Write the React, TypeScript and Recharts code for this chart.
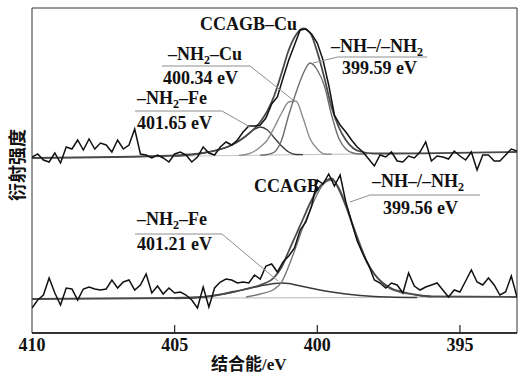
import React from "react";
import { LineChart, Line, XAxis, YAxis, ReferenceArea } from "recharts";

// binding energy grid of the measured spectra (eV)
const energies = [
  410, 409.8, 409.6, 409.4, 409.2, 409, 408.8, 408.6, 408.4, 408.2,
  408, 407.8, 407.6, 407.4, 407.2, 407, 406.8, 406.6, 406.4, 406.2,
  406, 405.8, 405.6, 405.4, 405.2, 405, 404.8, 404.6, 404.4, 404.2,
  404, 403.8, 403.6, 403.4, 403.2, 403, 402.8, 402.6, 402.4, 402.2,
  402, 401.8, 401.6, 401.4, 401.2, 401, 400.8, 400.6, 400.4, 400.2,
  400, 399.8, 399.6, 399.4, 399.2, 399, 398.8, 398.6, 398.4, 398.2,
  398, 397.8, 397.6, 397.4, 397.2, 397, 396.8, 396.6, 396.4, 396.2,
  396, 395.8, 395.6, 395.4, 395.2, 395, 394.8, 394.6, 394.4, 394.2,
  394, 393.8, 393.6, 393.4, 393.2, 393,
];

// CCAGB-Cu measured (offset upward)
const topRaw = [
  176, 179, 173, 171, 180, 170, 186, 184, 193, 183,
  194, 184, 190, 188, 181, 193, 184, 188, 204, 179,
  178, 175, 178, 175, 171, 179, 181, 178, 171, 176,
  186, 180, 178, 186, 191, 188, 193, 201, 207, 207,
  208, 215, 229, 236, 255, 273, 288, 303, 304, 299,
  290, 273, 248, 218, 208, 201, 193, 186, 181, 174,
  167, 178, 176, 181, 172, 171, 177, 175, 181, 191,
  172, 177, 176, 174, 182, 177, 173, 181, 163, 178,
  178, 172, 172, 178, 184, 182,
];

// CCAGB measured
const bottomRaw = [
  25, 33, 38, 55, 40, 28, 45, 44, 33, 44,
  46, 44, 43, 44, 53, 45, 51, 53, 43, 48,
  59, 40, 47, 39, 45, 40, 41, 38, 33, 25,
  46, 26, 45, 51, 54, 53, 50, 51, 50, 58,
  54, 67, 69, 61, 71, 77, 85, 103, 111, 127,
  153, 149, 159, 147, 158, 131, 111, 92, 79, 68,
  53, 50, 45, 50, 48, 40, 60, 47, 43, 46,
  48, 50, 43, 36, 43, 41, 52, 63, 51, 48,
  55, 48, 38, 41, 57, 36,
];

// fitted curves, top
const topEnvE = [410, 405, 404.5, 404, 403.5, 403, 402.5, 402, 401.75, 401.5, 401.25, 401, 400.75, 400.5, 400.25, 400, 399.75, 399.5, 399.25, 399, 398.75, 398.5, 398, 397.5, 393];
const topEnvV = [175, 177.5, 178.5, 180, 183, 188, 197, 211, 222, 238, 260, 283, 298, 304.5, 300, 281, 255, 226, 206, 193, 185, 181.5, 179.5, 179.5, 181];
const topNhE = [402, 401.75, 401.5, 401.25, 401, 400.75, 400.5, 400.25, 400, 399.75, 399.5, 399.25, 399, 398.75, 398.5, 398.25];
const topNhV = [177.8, 178.5, 181, 193, 218, 240, 259, 270, 263, 247, 218, 195, 184, 180, 179, 179.1];
const topCuE = [402.75, 402.5, 402.25, 402, 401.75, 401.5, 401.25, 401, 400.75, 400.5, 400.25, 400, 399.75, 399.5];
const topCuV = [177.6, 178.5, 181, 186, 193, 206, 220, 231, 232, 215, 194, 184, 179, 178.7];
const topFeE = [405, 404.5, 404, 403.5, 403, 402.5, 402.25, 402, 401.75, 401.5, 401.25, 401, 400.75, 400.5];
const topFeV = [177, 178, 180, 183, 188, 197, 203, 206, 203, 195, 187, 181, 178.5, 178.4];
const topBaseE = [410, 393];
const topBaseV = [175, 181];

// fitted curves, bottom
const botEnvE = [410, 405, 404, 403.5, 403, 402.5, 402, 401.5, 401.25, 401, 400.75, 400.5, 400.25, 400, 399.75, 399.5, 399.25, 399, 398.75, 398.5, 398.25, 398, 397.5, 397, 396.5, 396, 393];
const botEnvV = [34, 35, 36, 38, 41, 44, 48, 56, 66, 82, 98, 114, 130, 143, 151, 154.5, 144, 127, 107, 87, 70, 59, 46, 41, 38, 36.5, 36];
const botNhE = [402.5, 402, 401.5, 401.25, 401, 400.75, 400.5, 400.25, 400, 399.75, 399.5, 399.25, 399, 398.75, 398.5, 398.25, 398, 397.5, 397, 396.5, 396];
const botNhV = [36, 39, 44, 51, 67, 86, 106, 123, 139, 150, 153, 146, 129, 108, 89, 71, 59, 45, 40, 38, 36.5];
const botFeE = [405, 404, 403.5, 403, 402.5, 402, 401.5, 401.25, 401, 400.75, 400.5, 400.25, 400, 399.5, 399, 398.5, 398, 397.5, 396.5];
const botFeV = [34.5, 36, 38, 40.5, 44, 47, 49.5, 50, 49.5, 48, 46.5, 45, 43.5, 41, 39, 37.5, 36.5, 36, 35.5];
const botBaseE = [410, 393];
const botBaseV = [34.5, 36];

const xTicks = [410, 405, 400, 395];

const pts = (es: number[], vs: number[]) => es.map((e, i) => ({ e, v: vs[i] }));

const SERIF = "'Liberation Serif', 'Times New Roman', serif";
const CJK = "'Noto Sans CJK SC', sans-serif";

const Tick = ({ x, y, payload }: any) => (
  <g>
    {payload.value !== 410 && <line x1={x} x2={x} y1={y - 8} y2={y} stroke="#222" strokeWidth={1.2} />}
    <text x={x} y={y + 18} textAnchor="middle" fontFamily={SERIF} fontWeight={700} fontSize={18} fill="#111">
      {payload.value}
    </text>
  </g>
);

const Lbl = ({ x, y, main, sub, tail }: any) => (
  <text x={x} y={y} fontFamily={SERIF} fontWeight={700} fontSize={18} fill="#111">
    {main}
    {sub && <tspan fontSize={12} dy={4}>{sub}</tspan>}
    {tail && <tspan dy={sub ? -4 : 0}>{tail}</tspan>}
  </text>
);

export default function App() {
  const series = [
    { d: pts(topBaseE, topBaseV), c: "#c4c4c4", w: 1.2 },
    { d: pts(botBaseE, botBaseV), c: "#c4c4c4", w: 1.2 },
    { d: pts(topFeE, topFeV), c: "#3a3a3a", w: 1.4 },
    { d: pts(topCuE, topCuV), c: "#8c8c8c", w: 1.4 },
    { d: pts(topNhE, topNhV), c: "#6e6e6e", w: 1.4 },
    { d: pts(botFeE, botFeV), c: "#3a3a3a", w: 1.4 },
    { d: pts(botNhE, botNhV), c: "#777777", w: 1.4 },
    { d: pts(topEnvE, topEnvV), c: "#4a4a4a", w: 1.8 },
    { d: pts(botEnvE, botEnvV), c: "#4a4a4a", w: 1.8 },
  ];

  return (
    <div style={{ position: "fixed", left: 0, top: 0, width: 520, height: 374, background: "#fff" }}>
      <LineChart width={520} height={374} margin={{ top: 8, right: 3, bottom: 11, left: 32 }}>
        <XAxis
          dataKey="e"
          type="number"
          domain={[393, 410]}
          reversed
          allowDataOverflow
          ticks={xTicks}
          tickLine={false}
          tickSize={0}
          tickMargin={0}
          tick={<Tick />}
          height={30}
          axisLine={{ stroke: "#111", strokeWidth: 1.6 }}
        />
        <YAxis
          type="number"
          domain={[0, 325]}
          width={0}
          tick={false}
          tickLine={false}
          axisLine={{ stroke: "#111", strokeWidth: 1.6 }}
        />
        <ReferenceArea x1={410} x2={393} y1={0} y2={325} fill="none" stroke="#333" strokeWidth={1} />
        {series.map((s, i) => (
          <Line key={i} data={s.d} dataKey="v" type="monotone" stroke={s.c} strokeWidth={s.w} dot={false} isAnimationActive={false} />
        ))}
        <Line data={pts(energies, topRaw)} dataKey="v" type="linear" stroke="#111" strokeWidth={1.5} dot={false} isAnimationActive={false} />
        <Line data={pts(energies, bottomRaw)} dataKey="v" type="linear" stroke="#111" strokeWidth={1.5} dot={false} isAnimationActive={false} />
      </LineChart>

      {/* annotations */}
      <svg width={520} height={374} style={{ position: "absolute", left: 0, top: 0, pointerEvents: "none" }}>
        <g stroke="#8e8e8e" strokeWidth={1} fill="none">
          <polyline points="162,66 250,66 293,100" />
          <polyline points="135,111 222,111 250,127" />
          <polyline points="313,63 338,57 427,57" />
          <polyline points="350,202 370,195 480,195" />
          <polyline points="135,234 222,234 278,281" />
        </g>
        <Lbl x={200} y={30} main="CCAGB–Cu" />
        <Lbl x={168} y={60} main="–NH" sub="2" tail="–Cu" />
        <Lbl x={163} y={84} main="400.34 eV" />
        <Lbl x={137} y={104} main="–NH" sub="2" tail="–Fe" />
        <Lbl x={137} y={129} main="401.65 eV" />
        <Lbl x={331} y={52} main="–NH–/–NH" sub="2" />
        <Lbl x={342} y={74} main="399.59 eV" />
        <Lbl x={254} y={192} main="CCAGB" />
        <Lbl x={372} y={187} main="–NH–/–NH" sub="2" />
        <Lbl x={383} y={214} main="399.56 eV" />
        <Lbl x={137} y={225} main="–NH" sub="2" tail="–Fe" />
        <Lbl x={137} y={250} main="401.21 eV" />
        <text x={211} y={370} fontFamily={CJK} fontWeight={700} fontSize={17} fill="#111">
          结合能<tspan fontFamily={SERIF}>/eV</tspan>
        </text>
        <text x={0} y={0} transform="translate(24,165) rotate(-90)" textAnchor="middle" fontFamily={CJK} fontWeight={700} fontSize={18} fill="#111">
          衍射强度
        </text>
      </svg>
    </div>
  );
}
